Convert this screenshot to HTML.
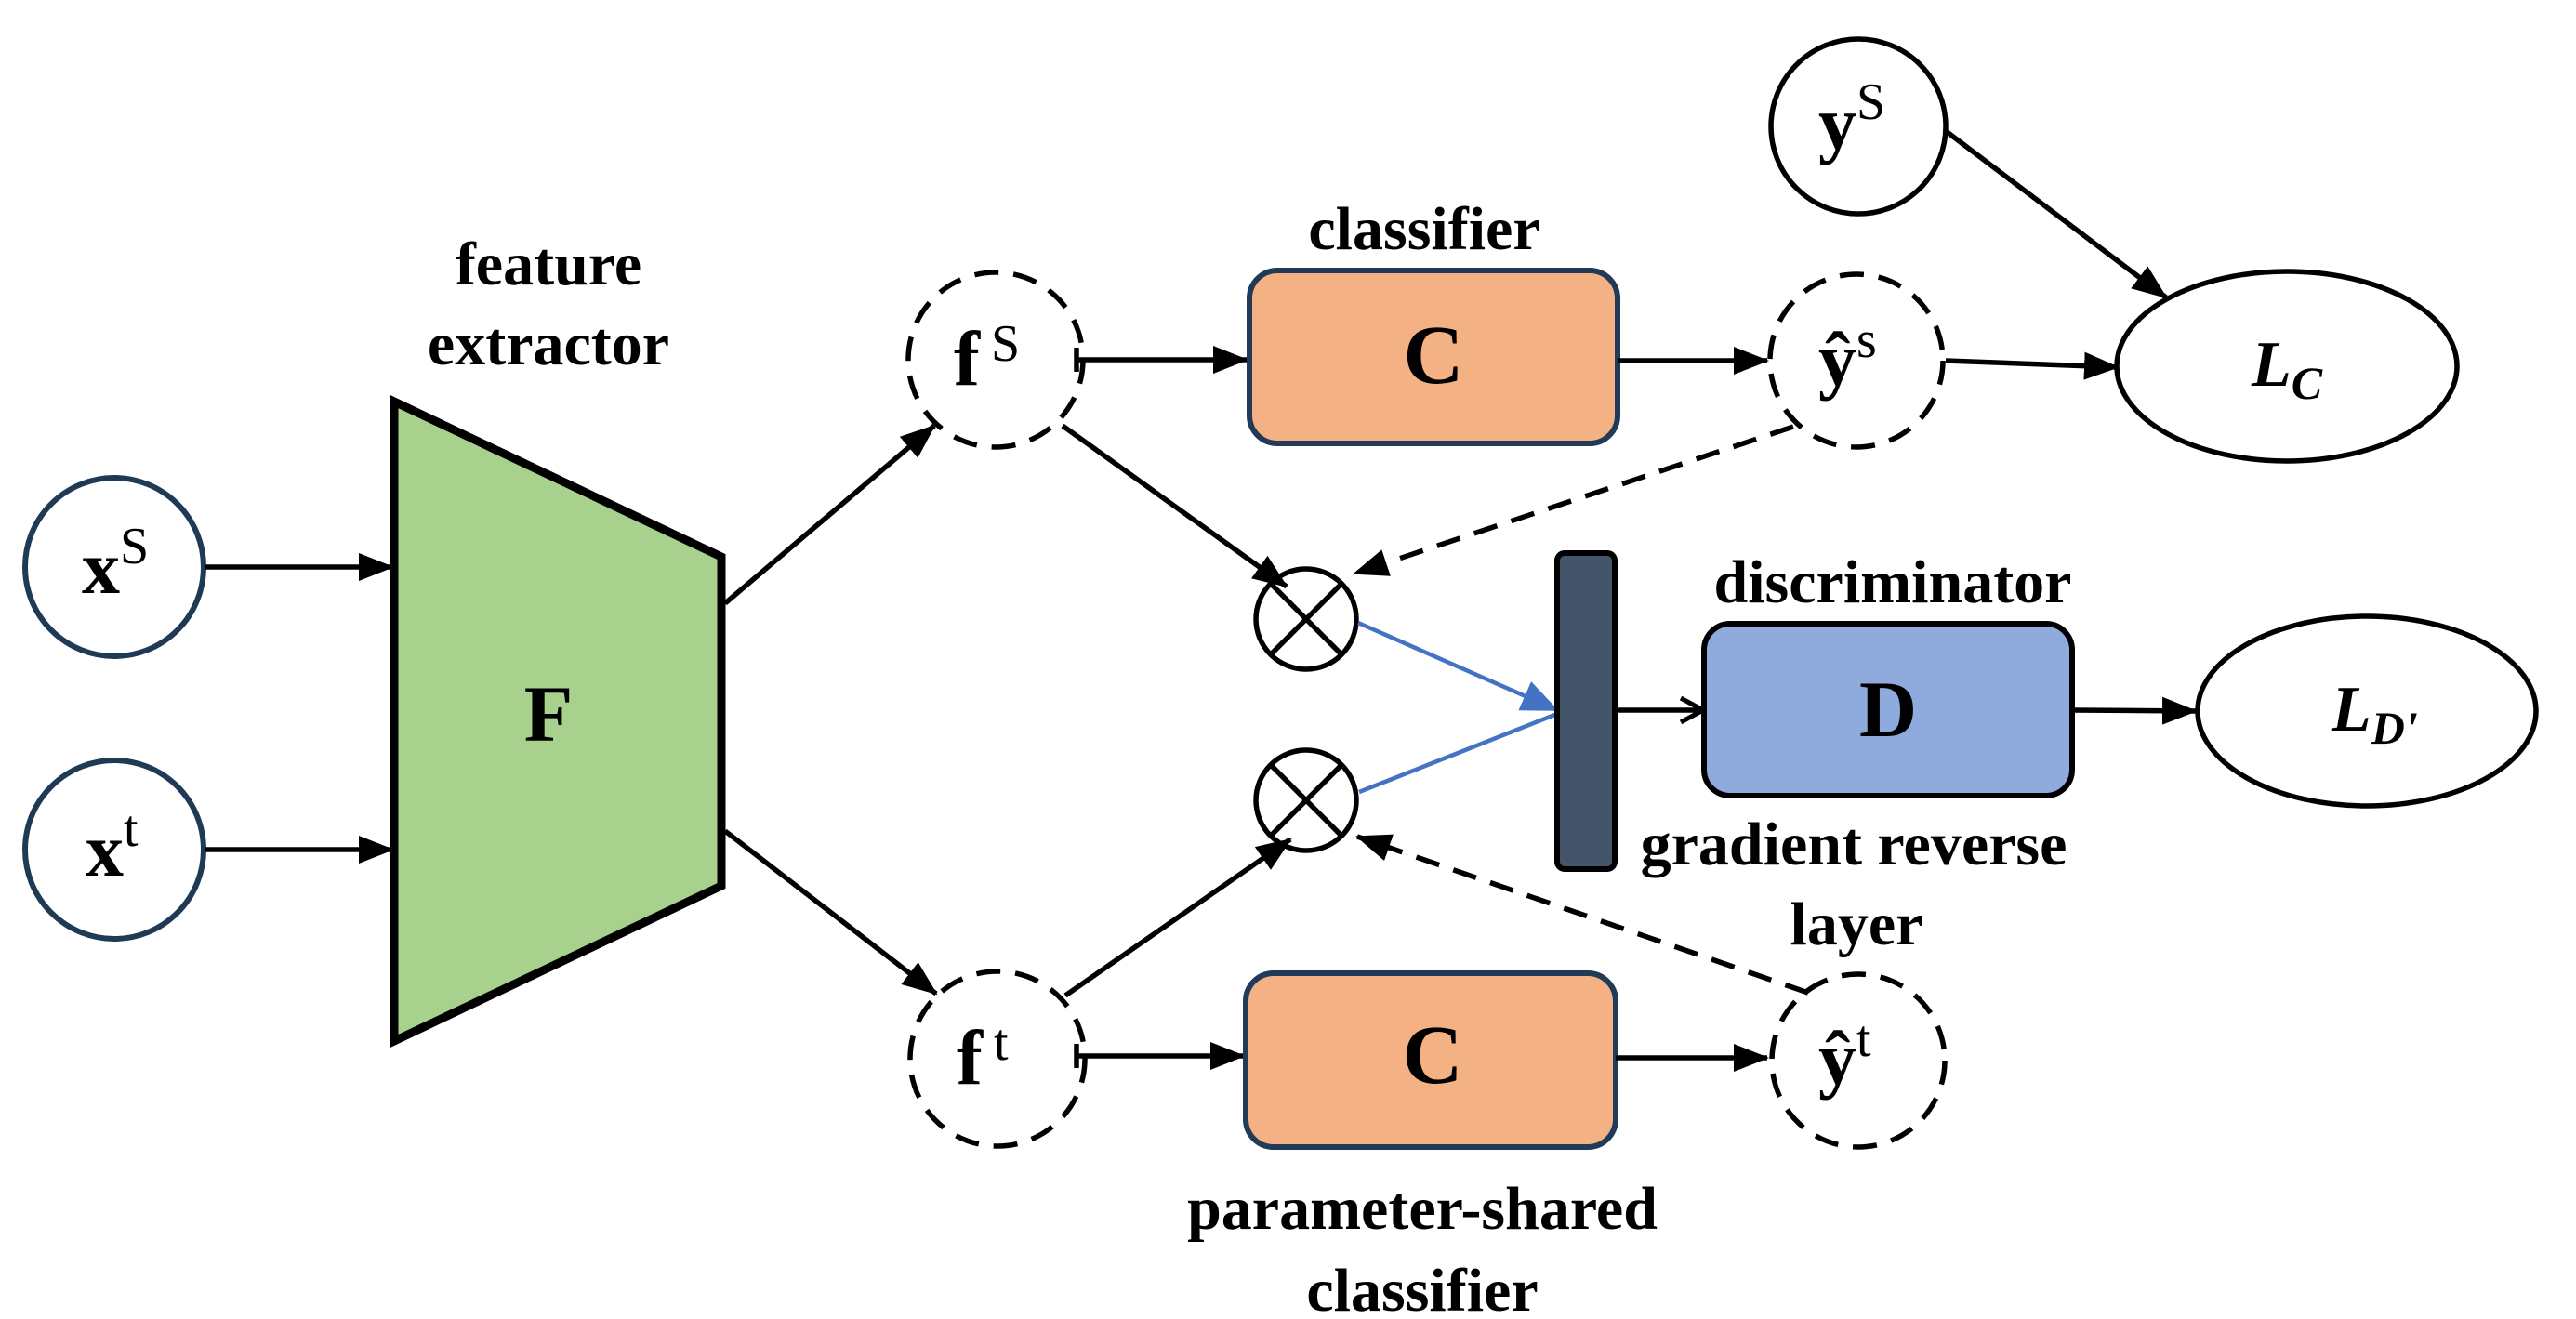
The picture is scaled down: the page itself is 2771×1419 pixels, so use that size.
<!DOCTYPE html>
<html><head><meta charset="utf-8"><style>
html,body{margin:0;padding:0;background:#fff;}
svg{display:block;}
text{font-family:"Liberation Serif",serif;font-weight:bold;fill:#000;}
</style></head><body>
<svg width="2771" height="1419" viewBox="0 0 2771 1419" xmlns="http://www.w3.org/2000/svg">
<defs>
<marker id="a" markerUnits="userSpaceOnUse" markerWidth="38" markerHeight="30" refX="36" refY="15" orient="auto"><path d="M0,0 L38,15 L0,30 Z" fill="#000"/></marker>
<marker id="b" markerUnits="userSpaceOnUse" markerWidth="40" markerHeight="34" refX="38" refY="17" orient="auto"><path d="M0,0 L40,17 L0,34 Z" fill="#4472c4"/></marker>
<marker id="o" markerUnits="userSpaceOnUse" markerWidth="32" markerHeight="32" refX="28" refY="16" orient="auto"><path d="M4,3 L28,16 L4,29" fill="none" stroke="#000" stroke-width="5"/></marker>
</defs>
<g stroke="#000" stroke-width="5.5" fill="none">
<circle cx="123" cy="610" r="96" stroke="#1f3a55" stroke-width="6"/>
<circle cx="123" cy="914" r="96" stroke="#1f3a55" stroke-width="6"/>
<line x1="220" y1="610" x2="422" y2="610" marker-end="url(#a)"/>
<line x1="220" y1="914" x2="422" y2="914" marker-end="url(#a)"/>
<polygon points="424,432 776,599 776,953 424,1120" fill="#a9d18e" stroke-width="9"/>
<line x1="780" y1="649" x2="1005" y2="458" marker-end="url(#a)"/>
<line x1="780" y1="894" x2="1007" y2="1069" marker-end="url(#a)"/>
<circle cx="1071" cy="387" r="94" stroke-dasharray="26 16"/>
<circle cx="1073" cy="1139" r="94" stroke-dasharray="26 16"/>
<line x1="1158" y1="387" x2="1341" y2="387" marker-end="url(#a)"/>
<line x1="1158" y1="374" x2="1158" y2="400"/>
<line x1="1158" y1="1136" x2="1338" y2="1136" marker-end="url(#a)"/>
<line x1="1158" y1="1123" x2="1158" y2="1149"/>
<line x1="1143" y1="458" x2="1384" y2="631" marker-end="url(#a)"/>
<line x1="1146" y1="1071" x2="1388" y2="903" marker-end="url(#a)"/>
<rect x="1344" y="291" width="396" height="186" rx="30" fill="#f4b183" stroke="#203a57" stroke-width="6"/>
<rect x="1340" y="1047" width="398" height="187" rx="30" fill="#f4b183" stroke="#203a57" stroke-width="6"/>
<line x1="1741" y1="388" x2="1901" y2="388" marker-end="url(#a)"/>
<line x1="1738" y1="1138" x2="1901" y2="1138" marker-end="url(#a)"/>
<circle cx="1997" cy="388" r="93" stroke-dasharray="26 16"/>
<circle cx="1999" cy="1141" r="93" stroke-dasharray="26 16"/>
<line x1="2093" y1="388" x2="2278" y2="395" marker-end="url(#a)"/>
<circle cx="1999" cy="136" r="94"/>
<line x1="2093" y1="141" x2="2330" y2="320" marker-end="url(#a)"/>
<ellipse cx="2460" cy="394" rx="183" ry="102"/>
<line x1="1929" y1="459" x2="1457" y2="617" stroke-dasharray="26 16" marker-end="url(#a)"/>
<line x1="1945" y1="1068" x2="1460" y2="900" stroke-dasharray="26 16" marker-end="url(#a)"/>
<circle cx="1405" cy="666" r="54"/>
<line x1="1367" y1="628" x2="1443" y2="704"/><line x1="1443" y1="628" x2="1367" y2="704"/>
<circle cx="1405" cy="861" r="54"/>
<line x1="1367" y1="823" x2="1443" y2="899"/><line x1="1443" y1="823" x2="1367" y2="899"/>
<line x1="1461" y1="670" x2="1675" y2="764" stroke="#4472c4" stroke-width="4.5" marker-end="url(#b)"/>
<line x1="1462" y1="852" x2="1675" y2="768" stroke="#4472c4" stroke-width="4.5"/>
<rect x="1675" y="595" width="62" height="340" rx="8" fill="#44546a" stroke="#000" stroke-width="6"/>
<line x1="1740" y1="764" x2="1832" y2="764" marker-end="url(#o)"/>
<rect x="1833" y="671" width="396" height="185" rx="28" fill="#8faadc" stroke="#000" stroke-width="6"/>
<line x1="2229" y1="764" x2="2362" y2="765" marker-end="url(#a)"/>
<ellipse cx="2546" cy="765" rx="182" ry="102"/>
</g>
<g text-anchor="middle">
<text x="590" y="306" font-size="66">feature</text>
<text x="590" y="392" font-size="66">extractor</text>
<text x="590" y="797" font-size="86">F</text>
<text x="1532" y="268" font-size="66">classifier</text>
<text x="1542" y="412" font-size="90">C</text>
<text x="1541" y="1165" font-size="90">C</text>
<text x="1530" y="1322" font-size="66">parameter-shared</text>
<text x="1530" y="1410" font-size="66">classifier</text>
<text x="2036" y="648" font-size="66">discriminator</text>
<text x="2031" y="792" font-size="86">D</text>
<text x="1994" y="930" font-size="66">gradient reverse</text>
<text x="1997" y="1016" font-size="66">layer</text>
</g>
<text x="88" y="638" font-size="82">x<tspan font-size="56" font-weight="normal" dy="-32">S</tspan></text>
<text x="92" y="942" font-size="82">x<tspan font-size="56" font-weight="normal" dy="-32">t</tspan></text>
<text x="1026" y="414" font-size="84">f<tspan font-size="56" font-weight="normal" dx="12" dy="-26">S</tspan></text>
<text x="1029" y="1166" font-size="84">f<tspan font-size="56" font-weight="normal" dx="12" dy="-26">t</tspan></text>
<text x="1956" y="160" font-size="82">y<tspan font-size="56" font-weight="normal" dy="-32">S</tspan></text>
<text x="1956" y="414" font-size="82">ŷ<tspan font-size="56" font-weight="normal" dy="-30">s</tspan></text>
<text x="1956" y="1166" font-size="82">ŷ<tspan font-size="56" font-weight="normal" dy="-30">t</tspan></text>
<text x="2422" y="415" font-size="70" font-style="italic">L<tspan font-size="50" dy="14">C</tspan></text>
<text x="2508" y="786" font-size="70" font-style="italic">L<tspan font-size="50" dy="14">D'</tspan></text>
</svg>
</body></html>
